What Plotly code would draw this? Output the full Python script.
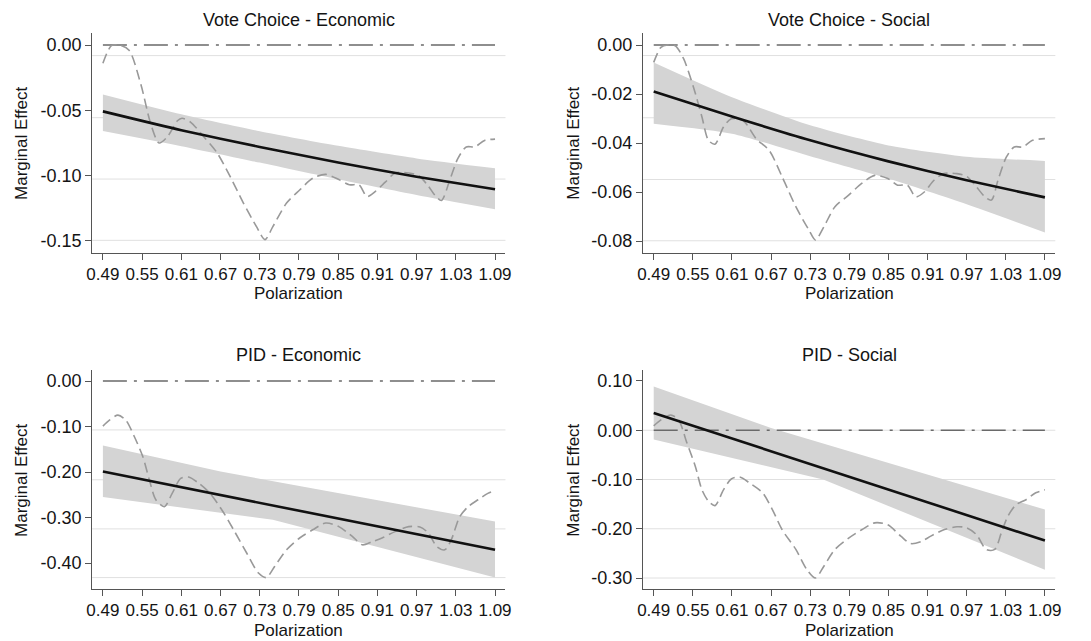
import plotly.graph_objects as go

# ---------------- data ----------------
panel_titles = ["Vote Choice - Economic", "Vote Choice - Social", "PID - Economic", "PID - Social"]
x_tick_vals = [0.49, 0.55, 0.61, 0.67, 0.73, 0.79, 0.85, 0.91, 0.97, 1.03, 1.09]
x_tick_text = ["0.49", "0.55", "0.61", "0.67", "0.73", "0.79", "0.85", "0.91", "0.97", "1.03", "1.09"]

# Panel 1: Vote Choice - Economic
ve_y_ticks = [0.0, -0.05, -0.10, -0.15]
ve_y_text = ["0.00", "-0.05", "-0.10", "-0.15"]
ve_grid = [-0.0081, -0.0556, -0.1026, -0.1495]
ve_fit_x = [0.49, 0.61, 0.73, 0.85, 0.97, 1.09]
ve_fit = [-0.0508, -0.0652, -0.0780, -0.0899, -0.1008, -0.1104]
ve_hi_x = [0.49, 0.61, 0.73, 0.85, 0.97, 1.09]
ve_hi = [-0.0378, -0.0530, -0.0660, -0.0772, -0.0868, -0.0944]
ve_lo_x = [0.49, 0.61, 0.73, 0.85, 0.97, 1.09]
ve_lo = [-0.0658, -0.0774, -0.0900, -0.1028, -0.1148, -0.1257]
ve_dx = [0.490, 0.503, 0.515, 0.530, 0.548, 0.563, 0.576, 0.589, 0.604, 0.611, 0.624, 0.644,
         0.664, 0.685, 0.705, 0.725, 0.738, 0.750, 0.771, 0.791, 0.811, 0.831, 0.851, 0.867,
         0.882, 0.894, 0.907, 0.922, 0.937, 0.958, 0.973, 0.988, 0.998, 1.008, 1.021, 1.033,
         1.046, 1.059, 1.074, 1.090]
ve_dy = [-0.014, -0.0005, 0.000, -0.004, -0.030, -0.060, -0.075, -0.070, -0.058, -0.056, -0.059, -0.070,
         -0.082, -0.101, -0.121, -0.139, -0.149, -0.139, -0.121, -0.111, -0.102, -0.099, -0.103, -0.107,
         -0.107, -0.116, -0.112, -0.105, -0.098, -0.098, -0.100, -0.108, -0.115, -0.119, -0.103, -0.087,
         -0.078, -0.078, -0.073, -0.072]

# Panel 2: Vote Choice - Social
vs_y_ticks = [0.0, -0.02, -0.04, -0.06, -0.08]
vs_y_text = ["0.00", "-0.02", "-0.04", "-0.06", "-0.08"]
vs_grid = [-0.0043, -0.0297, -0.0549, -0.0799]
vs_fit_x = [0.49, 0.61, 0.73, 0.85, 0.97, 1.09]
vs_fit = [-0.0190, -0.0292, -0.0389, -0.0475, -0.0552, -0.0622]
vs_hi_x = [0.49, 0.61, 0.73, 0.85, 0.97, 1.09]
vs_hi = [-0.0071, -0.0213, -0.0328, -0.0410, -0.0456, -0.0473]
vs_lo_x = [0.49, 0.61, 0.73, 0.85, 0.97, 1.09]
vs_lo = [-0.0321, -0.0362, -0.0454, -0.0545, -0.0650, -0.0765]
vs_dx = [0.490, 0.501, 0.511, 0.523, 0.536, 0.551, 0.564, 0.574, 0.584, 0.597, 0.609, 0.627,
         0.647, 0.667, 0.687, 0.708, 0.728, 0.738, 0.751, 0.768, 0.789, 0.809, 0.829, 0.849,
         0.864, 0.879, 0.892, 0.905, 0.920, 0.935, 0.955, 0.970, 0.985, 0.998, 1.008, 1.018,
         1.031, 1.043, 1.056, 1.071, 1.090]
vs_dy = [-0.0071, -0.0010, 0.0000, -0.0003, -0.0057, -0.0172, -0.0294, -0.0389, -0.0405, -0.0335, -0.0301, -0.0308,
         -0.0382, -0.0430, -0.0538, -0.0660, -0.0755, -0.0796, -0.0742, -0.0660, -0.0613, -0.0565, -0.0532, -0.0545,
         -0.0572, -0.0572, -0.0620, -0.0600, -0.0552, -0.0525, -0.0525, -0.0536, -0.0579, -0.0620, -0.0633, -0.0552,
         -0.0457, -0.0416, -0.0416, -0.0389, -0.0382]

# Panel 3: PID - Economic
pe_y_ticks = [0.0, -0.10, -0.20, -0.30, -0.40]
pe_y_text = ["0.00", "-0.10", "-0.20", "-0.30", "-0.40"]
pe_grid = [-0.1075, -0.2170, -0.3250, -0.4320]
pe_fit_x = [0.49, 1.09]
pe_fit = [-0.199, -0.371]
pe_hi_x = [0.49, 0.67, 1.09]
pe_hi = [-0.142, -0.199, -0.309]
pe_lo_x = [0.49, 0.75, 1.09]
pe_lo = [-0.255, -0.305, -0.432]
pe_dx = [0.490, 0.500, 0.513, 0.525, 0.538, 0.551, 0.561, 0.571, 0.584, 0.596, 0.609, 0.621,
         0.637, 0.654, 0.675, 0.690, 0.710, 0.728, 0.740, 0.753, 0.771, 0.791, 0.811, 0.831,
         0.851, 0.872, 0.887, 0.902, 0.917, 0.937, 0.958, 0.975, 0.988, 1.001, 1.013, 1.023,
         1.036, 1.049, 1.064, 1.079, 1.090]
pe_dy = [-0.099, -0.086, -0.075, -0.086, -0.122, -0.166, -0.217, -0.261, -0.276, -0.247, -0.214, -0.211,
         -0.225, -0.247, -0.290, -0.327, -0.378, -0.422, -0.432, -0.407, -0.371, -0.345, -0.327, -0.312,
         -0.320, -0.342, -0.360, -0.353, -0.345, -0.331, -0.320, -0.321, -0.334, -0.364, -0.371, -0.349,
         -0.298, -0.276, -0.261, -0.247, -0.241]

# Panel 4: PID - Social
ps_y_ticks = [0.10, 0.0, -0.10, -0.20, -0.30]
ps_y_text = ["0.10", "0.00", "-0.10", "-0.20", "-0.30"]
ps_grid = [0.0, -0.10, -0.20, -0.30]
ps_fit_x = [0.49, 1.09]
ps_fit = [0.035, -0.224]
ps_hi_x = [0.49, 0.67, 1.09]
ps_hi = [0.089, 0.0046, -0.161]
ps_lo_x = [0.49, 0.75, 1.09]
ps_lo = [-0.019, -0.100, -0.283]
ps_dx = [0.490, 0.501, 0.516, 0.528, 0.541, 0.554, 0.564, 0.574, 0.584, 0.597, 0.609, 0.622,
         0.637, 0.657, 0.672, 0.687, 0.708, 0.725, 0.738, 0.751, 0.768, 0.789, 0.809, 0.829,
         0.849, 0.869, 0.884, 0.900, 0.915, 0.935, 0.955, 0.970, 0.985, 1.000, 1.013, 1.023,
         1.033, 1.046, 1.061, 1.076, 1.090]
ps_dy = [0.009, 0.021, 0.031, 0.021, -0.026, -0.074, -0.121, -0.144, -0.153, -0.121, -0.099, -0.095,
         -0.107, -0.127, -0.161, -0.202, -0.242, -0.283, -0.300, -0.276, -0.242, -0.219, -0.202, -0.188,
         -0.192, -0.215, -0.230, -0.226, -0.215, -0.202, -0.196, -0.198, -0.212, -0.242, -0.242, -0.209,
         -0.175, -0.151, -0.141, -0.127, -0.121]

zero_x = [0.49, 1.09]
zero_y = [0.0, 0.0]

# ---------------- layout ----------------
W, H = 1083, 633      # page body has an 8px margin inside the 1091x641 window
OFF = 8


def px(x):
    return (x - OFF) / W


def py(y):
    return 1 - (y - OFF) / H


LEFT_X = [px(87), px(505)]
RIGHT_X = [px(644), px(1061)]
TOP_Y = [py(253), py(33)]
BOT_Y = [py(589), py(370)]

panels = [
    dict(t=panel_titles[0], yt=ve_y_ticks, ytx=ve_y_text, grid=ve_grid, fx=ve_fit_x, f=ve_fit,
         hx=ve_hi_x, hi=ve_hi, lx=ve_lo_x, lo=ve_lo, dx=ve_dx, dy=ve_dy, yr=[-0.1592, 0.0092],
         xd=LEFT_X, yd=TOP_Y, ty=20, py_=293, my=143, mx=15, smooth=True),
    dict(t=panel_titles[1], yt=vs_y_ticks, ytx=vs_y_text, grid=vs_grid, fx=vs_fit_x, f=vs_fit,
         hx=vs_hi_x, hi=vs_hi, lx=vs_lo_x, lo=vs_lo, dx=vs_dx, dy=vs_dy, yr=[-0.0849, 0.0049],
         xd=RIGHT_X, yd=TOP_Y, ty=20, py_=293, my=143, mx=573, smooth=True),
    dict(t=panel_titles[2], yt=pe_y_ticks, ytx=pe_y_text, grid=pe_grid, fx=pe_fit_x, f=pe_fit,
         hx=pe_hi_x, hi=pe_hi, lx=pe_lo_x, lo=pe_lo, dx=pe_dx, dy=pe_dy, yr=[-0.4571, 0.0242],
         xd=LEFT_X, yd=BOT_Y, ty=355, py_=630, my=480, mx=15, smooth=False),
    dict(t=panel_titles[3], yt=ps_y_ticks, ytx=ps_y_text, grid=ps_grid, fx=ps_fit_x, f=ps_fit,
         hx=ps_hi_x, hi=ps_hi, lx=ps_lo_x, lo=ps_lo, dx=ps_dx, dy=ps_dy, yr=[-0.3223, 0.1223],
         xd=RIGHT_X, yd=BOT_Y, ty=355, py_=630, my=480, mx=573, smooth=False),
]

FONT = "Liberation Sans, Arial, Helvetica, sans-serif"
TXT = "#141414"
fig = go.Figure()
annotations = []
shapes = []

for i, p in enumerate(panels):
    n = "" if i == 0 else str(i + 1)
    xa, ya = "x" + n, "y" + n
    shp = "spline" if p["smooth"] else "linear"
    # CI band (upper edge, then lower edge filled to it)
    fig.add_trace(go.Scatter(x=p["hx"], y=p["hi"], xaxis=xa, yaxis=ya, mode="lines",
                             line=dict(width=0, color="#d4d4d4", shape=shp, smoothing=0.6),
                             hoverinfo="skip", showlegend=False))
    fig.add_trace(go.Scatter(x=p["lx"], y=p["lo"], xaxis=xa, yaxis=ya, mode="lines", fill="tonexty",
                             fillcolor="#d4d4d4", line=dict(width=0, color="#d4d4d4", shape=shp, smoothing=0.6),
                             hoverinfo="skip", showlegend=False))
    # zero reference line
    fig.add_trace(go.Scatter(x=zero_x, y=zero_y, xaxis=xa, yaxis=ya, mode="lines",
                             line=dict(color="#6a6a6a", width=1.6, dash="24px,7px,3px,7px"),
                             showlegend=False))
    # dashed density-like curve
    fig.add_trace(go.Scatter(x=p["dx"], y=p["dy"], xaxis=xa, yaxis=ya, mode="lines",
                             line=dict(color="#999999", width=1.6, dash="10px,5px", shape="spline", smoothing=0.8),
                             showlegend=False))
    # marginal effect
    fig.add_trace(go.Scatter(x=p["fx"], y=p["f"], xaxis=xa, yaxis=ya, mode="lines",
                             line=dict(color="#111111", width=2.6, shape="spline", smoothing=0.6),
                             showlegend=False))

    axis_common = dict(showline=True, linecolor="#555555", linewidth=1, ticks="outside", ticklen=6,
                       tickcolor="#555555", showgrid=False, zeroline=False)
    fig.layout["xaxis" + n] = dict(axis_common, domain=p["xd"], range=[0.4735, 1.106], anchor=ya,
                                    tickvals=x_tick_vals, ticktext=x_tick_text,
                                    tickfont=dict(family=FONT, size=17, color=TXT))
    fig.layout["yaxis" + n] = dict(axis_common, domain=p["yd"], range=p["yr"], anchor=xa,
                                    tickvals=p["yt"], ticktext=p["ytx"],
                                    tickfont=dict(family=FONT, size=18, color=TXT))
    for g in p["grid"]:
        shapes.append(dict(type="line", xref=xa + " domain", x0=0, x1=1, yref=ya, y0=g, y1=g,
                           line=dict(color="#e0e0e0", width=1), layer="below"))
    xc = (p["xd"][0] + p["xd"][1]) / 2
    annotations.append(dict(text=p["t"], xref="paper", yref="paper", x=xc, y=py(p["ty"]),
                            xanchor="center", yanchor="middle", showarrow=False,
                            font=dict(family=FONT, size=18, color=TXT)))
    annotations.append(dict(text="Polarization", xref="paper", yref="paper", x=xc, y=py(p["py_"]),
                            xanchor="center", yanchor="middle", showarrow=False,
                            font=dict(family=FONT, size=17, color=TXT)))
    annotations.append(dict(text="Marginal Effect", xref="paper", yref="paper",
                            x=px(p["mx"]), y=py(p["my"]),
                            xanchor="center", yanchor="middle", textangle=-90, showarrow=False,
                            font=dict(family=FONT, size=17, color=TXT)))

fig.update_layout(width=W, height=H, margin=dict(l=0, r=0, t=0, b=0),
                  paper_bgcolor="white", plot_bgcolor="white",
                  annotations=annotations, shapes=shapes, showlegend=False)
fig.write_html("out.html")
